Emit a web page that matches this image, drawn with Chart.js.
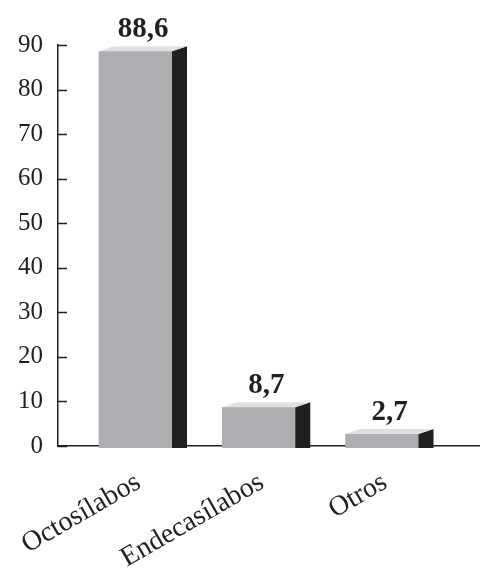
<!DOCTYPE html>
<html>
<head>
<meta charset="utf-8">
<script src="https://cdn.jsdelivr.net/npm/chart.js@4/dist/chart.umd.min.js"></script>
<style>
  body { margin: 0; background: #fff; }
  canvas { display: block; }
</style>
</head>
<body>
<canvas id="versos" width="480" height="570"></canvas>
<script>
const categories = ["Octosílabos", "Endecasílabos", "Otros"];
const values = [88.6, 8.7, 2.7];
const yTicks = [0, 10, 20, 30, 40, 50, 60, 70, 80, 90];

const ink = "#231f20";
const frontColor = "#adaeb2";
const sideColor = "#231f20";
const topColor = "#dfe0e2";
const serif = "'Liberation Serif', 'Times New Roman', serif";
const depthX = 15, depthY = 5;

// side and top faces of each bar, plus the value over it
const boxBars = {
  id: "boxBars",
  afterDatasetsDraw(chart) {
    const ctx = chart.ctx;
    const meta = chart.getDatasetMeta(0);
    meta.data.forEach((bar, i) => {
      const left = bar.x - bar.width / 2;
      const right = bar.x + bar.width / 2;
      const top = bar.y, base = bar.base;
      ctx.save();
      // front face runs a hair past the axis line
      ctx.fillStyle = frontColor;
      ctx.fillRect(left, base - 1, bar.width, 3);
      ctx.fillStyle = sideColor;
      ctx.beginPath();
      ctx.moveTo(right, top);
      ctx.lineTo(right + depthX, top - depthY);
      ctx.lineTo(right + depthX, base + 2);
      ctx.lineTo(right, base + 2);
      ctx.closePath();
      ctx.fill();
      ctx.fillStyle = topColor;
      ctx.beginPath();
      ctx.moveTo(left, top);
      ctx.lineTo(left + depthX, top - depthY);
      ctx.lineTo(right + depthX, top - depthY);
      ctx.lineTo(right, top);
      ctx.closePath();
      ctx.fill();

      ctx.fillStyle = ink;
      ctx.font = "bold 29px " + serif;
      ctx.textAlign = "center";
      ctx.textBaseline = "alphabetic";
      ctx.fillText(values[i].toLocaleString("es-ES"), bar.x + depthX / 2, top - depthY - 9);
      ctx.restore();
    });
  },
  // little tick marks pointing into the plot
  afterDraw(chart) {
    const ctx = chart.ctx;
    const y = chart.scales.y;
    ctx.save();
    ctx.strokeStyle = ink;
    ctx.lineWidth = 1.5;
    yTicks.forEach(v => {
      const py = Math.round(y.getPixelForValue(v)) + 0.5;
      ctx.beginPath();
      ctx.moveTo(y.right, py);
      ctx.lineTo(y.right + 9, py);
      ctx.stroke();
    });
    ctx.restore();
  }
};

new Chart(document.getElementById("versos"), {
  type: "bar",
  data: {
    datasets: [{
      data: values.map((v, i) => ({ x: i, y: v })),
      backgroundColor: frontColor,
      borderWidth: 0,
      barThickness: 73
    }]
  },
  options: {
    responsive: false,
    animation: false,
    events: [],
    layout: { padding: { top: 45, right: 0, left: 0, bottom: 0 } },
    plugins: { legend: { display: false }, tooltip: { enabled: false } },
    scales: {
      x: {
        type: "linear",
        offset: false,
        min: -0.629,
        max: 2.795,
        afterFit: s => { s.height = 124; s.paddingLeft = 0; s.paddingRight = 0; },
        grid: { display: false, drawTicks: false },
        border: { display: true, color: ink, width: 1.5 },
        ticks: {
          stepSize: 1,
          includeBounds: false,
          autoSkip: false,
          minRotation: 30,
          maxRotation: 30,
          padding: 20,
          labelOffset: 3,
          color: ink,
          font: { family: serif, size: 28 },
          callback: v => categories[v] ?? ""
        }
      },
      y: {
        min: 0,
        max: 90,
        afterFit: s => { s.width = 58; },
        afterBuildTicks: s => { s.ticks = yTicks.map(v => ({ value: v })); },
        grid: { display: false, drawTicks: false },
        border: { display: true, color: ink, width: 1.5 },
        ticks: {
          padding: 15,
          color: ink,
          font: { family: serif, size: 25 }
        }
      }
    }
  },
  plugins: [boxBars]
});
</script>
</body>
</html>
